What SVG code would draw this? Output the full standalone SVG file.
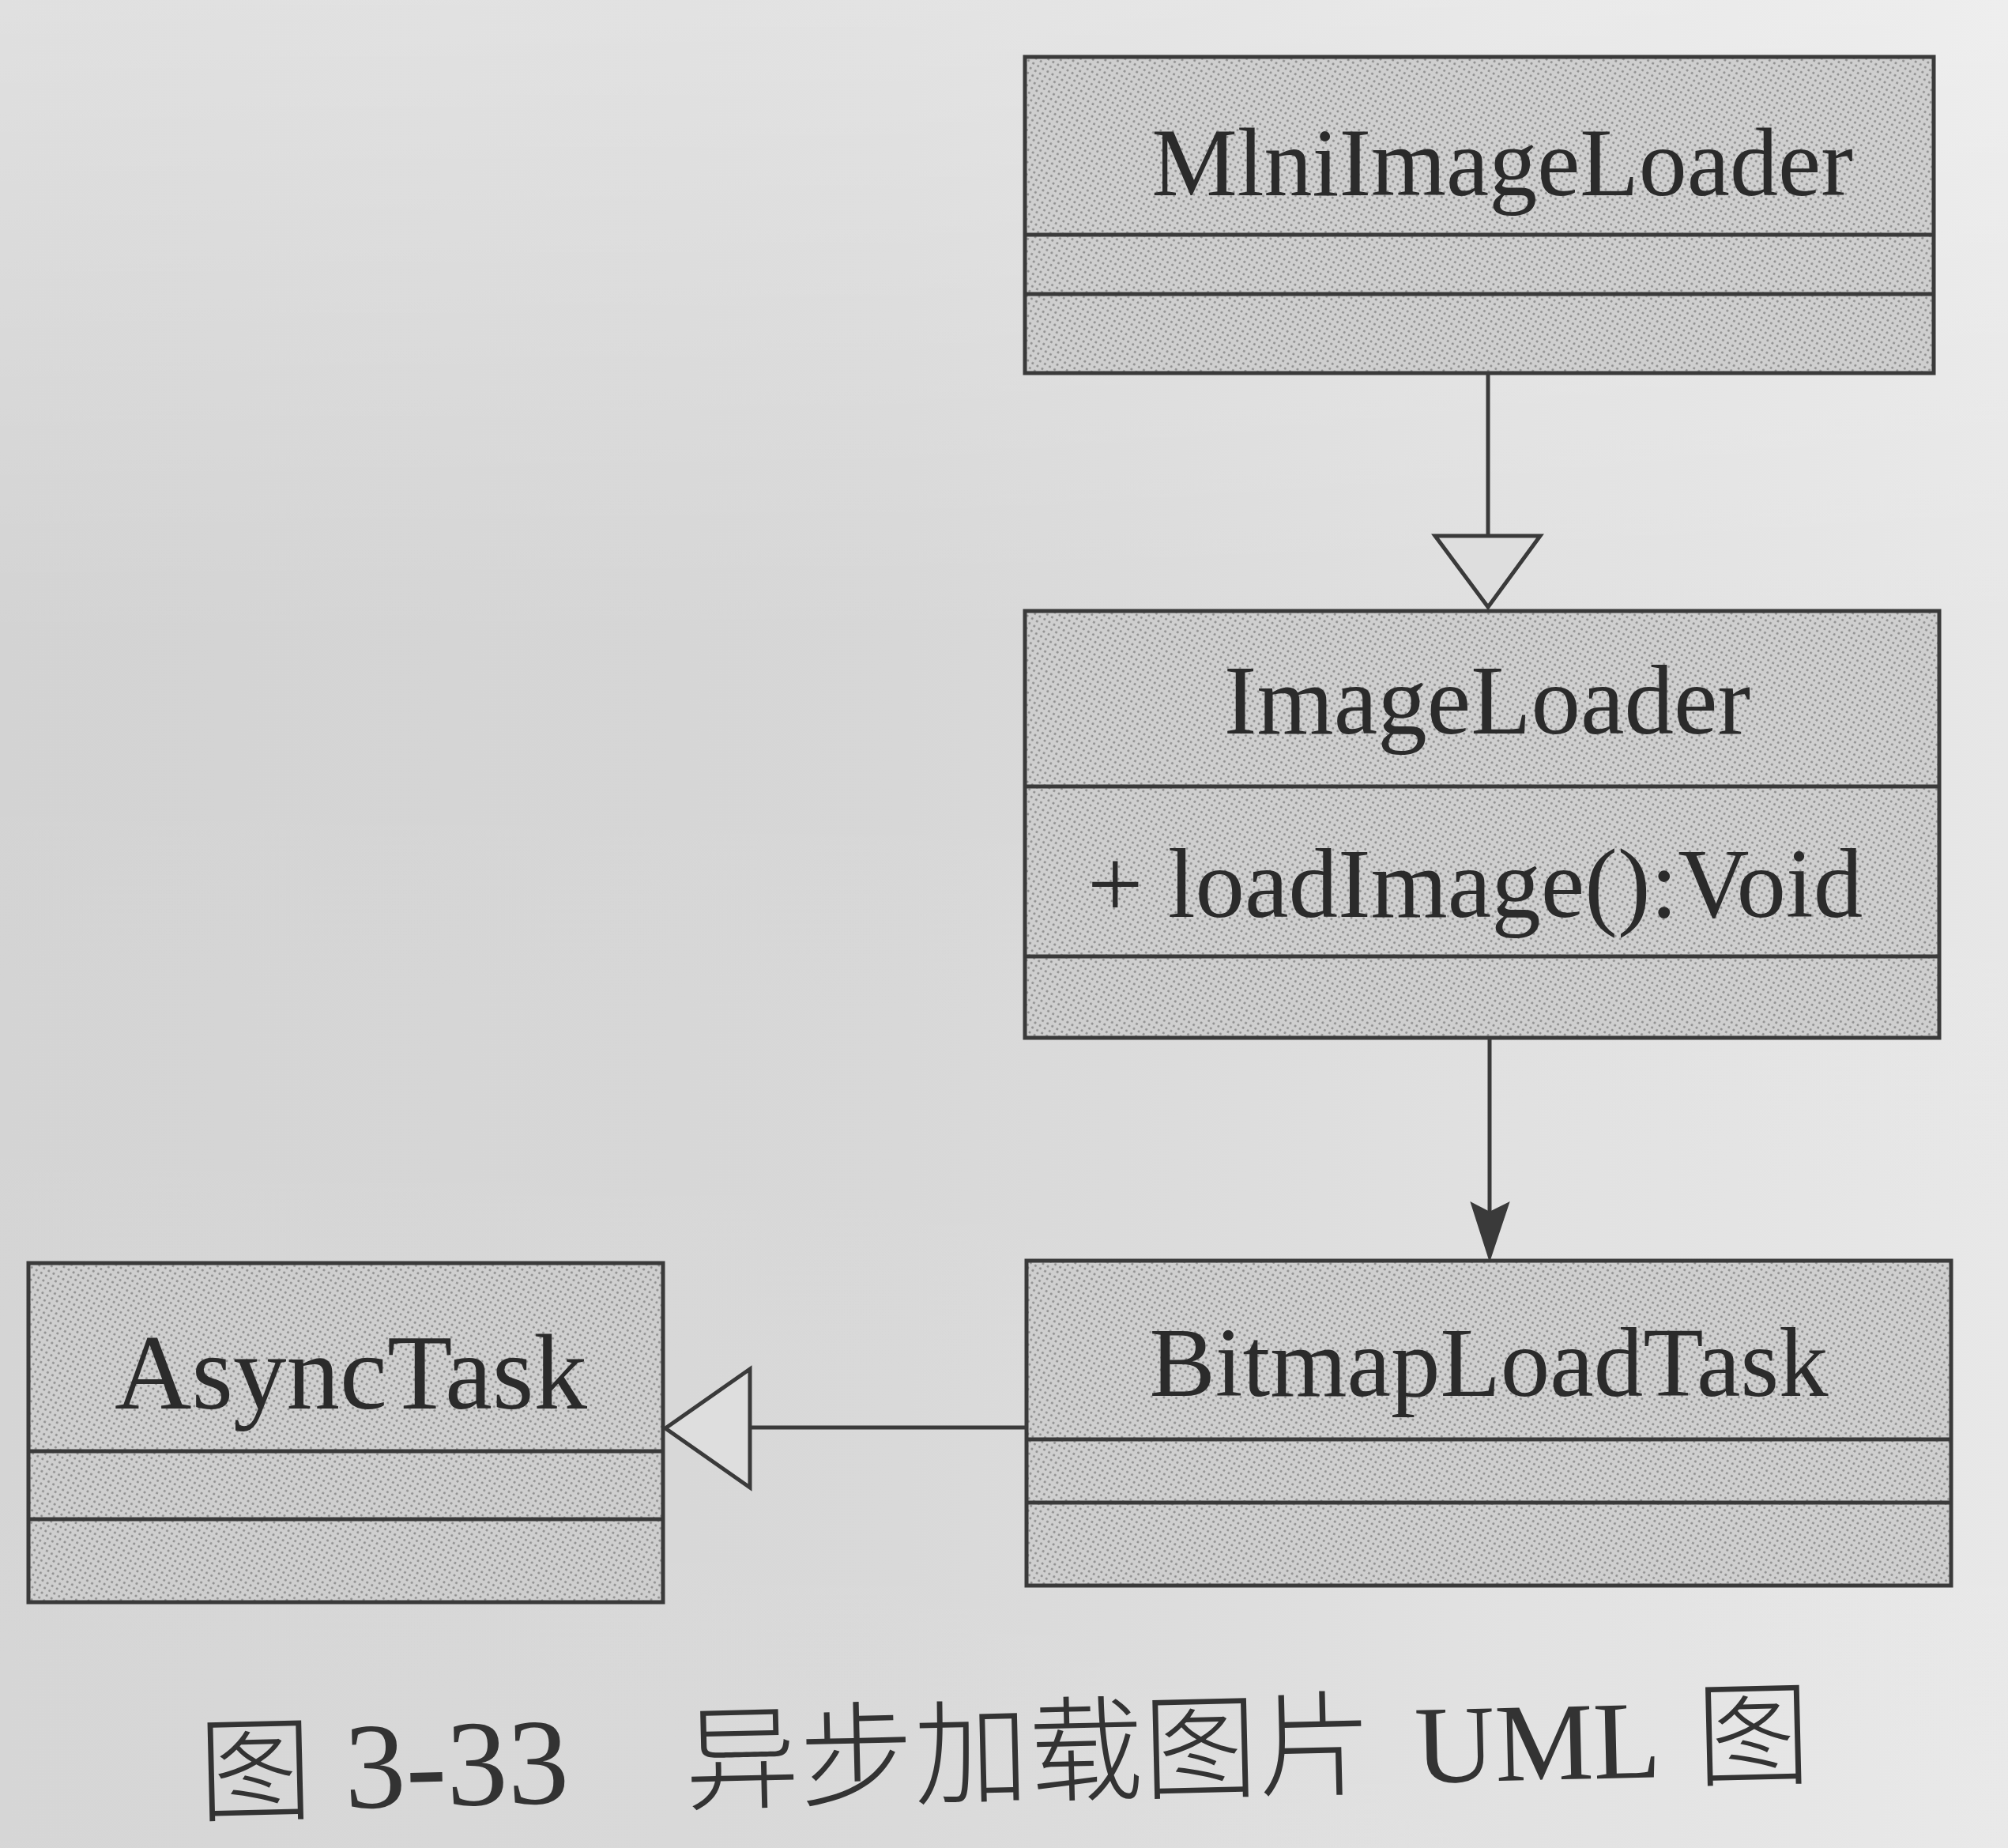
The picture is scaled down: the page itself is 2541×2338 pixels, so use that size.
<svg xmlns="http://www.w3.org/2000/svg" width="2541" height="2338" viewBox="0 0 2541 2338">
  <defs>
    <linearGradient id="bg" x1="0" y1="0" x2="1" y2="0">
      <stop offset="0" stop-color="#d3d3d3"/>
      <stop offset="0.45" stop-color="#d7d7d7"/>
      <stop offset="1" stop-color="#e7e7e7"/>
    </linearGradient>
    <linearGradient id="bgv" x1="0" y1="0" x2="0" y2="1">
      <stop offset="0" stop-color="#ffffff" stop-opacity="0.3"/>
      <stop offset="0.35" stop-color="#ffffff" stop-opacity="0"/>
      <stop offset="1" stop-color="#ffffff" stop-opacity="0.08"/>
    </linearGradient>
    <pattern id="dots" width="7" height="7" patternUnits="userSpaceOnUse" patternTransform="rotate(30)">
      <rect width="7" height="7" fill="#cfcfcf"/>
      <circle cx="3.5" cy="3.5" r="1.5" fill="#8c8c8c"/>
    </pattern>
  </defs>
  <style>
    .box { fill: url(#dots); stroke: #3a3a3a; stroke-width: 5; }
    .div { stroke: #3a3a3a; stroke-width: 5; fill: none; }
    .name { font-family: "Liberation Serif", "Times New Roman", serif; fill: #2b2b2b; text-anchor: middle; }
    .op { font-family: "Liberation Serif", "Times New Roman", serif; fill: #2b2b2b; }
    .edge { stroke: #3a3a3a; stroke-width: 5; fill: none; }
    .hollow { stroke: #3a3a3a; stroke-width: 5; fill: #dedede; stroke-linejoin: miter; }
    .solid { stroke: #3a3a3a; stroke-width: 2; fill: #3a3a3a; stroke-linejoin: miter; }
    .cap { fill: #333333; }
    .cjk { font-family: "Noto Sans CJK SC", sans-serif; font-weight: 300; }
    .lat { font-family: "Liberation Serif", "Times New Roman", serif; }
  </style>

  <rect x="0" y="0" width="2541" height="2338" fill="url(#bg)"/>
  <rect x="0" y="0" width="2541" height="2338" fill="url(#bgv)"/>

  <g id="connectors">
    <line class="edge" x1="1883" y1="472" x2="1883" y2="678"/>
    <polygon class="hollow" points="1816,678 1949,678 1883,768"/>
    <line class="edge" x1="1885" y1="1313" x2="1885" y2="1534"/>
    <polygon class="solid" points="1885,1594 1862,1522 1885,1534 1909,1522"/>
    <line class="edge" x1="1299" y1="1806" x2="949" y2="1806"/>
    <polygon class="hollow" points="949,1732 949,1882 842,1807"/>
  </g>

  <g id="MlniImageLoader">
    <rect class="box" x="1297" y="72" width="1150" height="400"/>
    <line class="div" x1="1297" y1="297" x2="2447" y2="297"/>
    <line class="div" x1="1297" y1="372" x2="2447" y2="372"/>
    <text class="name" x="1901" y="247" font-size="122">MlniImageLoader</text>
  </g>

  <g id="ImageLoader">
    <rect class="box" x="1297" y="773" width="1157" height="540"/>
    <line class="div" x1="1297" y1="995" x2="2454" y2="995"/>
    <line class="div" x1="1297" y1="1210" x2="2454" y2="1210"/>
    <text class="name" x="1882" y="928" font-size="125">ImageLoader</text>
    <text class="op" x="1376" y="1160" font-size="125">+ loadImage():Void</text>
  </g>

  <g id="BitmapLoadTask">
    <rect class="box" x="1299" y="1595" width="1170" height="411"/>
    <line class="div" x1="1299" y1="1821" x2="2469" y2="1821"/>
    <line class="div" x1="1299" y1="1901" x2="2469" y2="1901"/>
    <text class="name" x="1884" y="1766" font-size="125">BitmapLoadTask</text>
  </g>

  <g id="AsyncTask">
    <rect class="box" x="36" y="1598" width="803" height="429"/>
    <line class="div" x1="36" y1="1836" x2="839" y2="1836"/>
    <line class="div" x1="36" y1="1922" x2="839" y2="1922"/>
    <text class="name" x="444" y="1782" font-size="135">AsyncTask</text>
  </g>

  <g id="caption" class="cap" transform="rotate(-1.35 1260 2280)">
    <text class="cjk" x="252" y="2270" font-size="145">图</text>
    <text class="lat" x="437" y="2268" font-size="155">3-33</text>
    <text class="cjk" x="868" y="2270" font-size="145">异步加载图片</text>
    <text class="lat" x="1792" y="2268" font-size="140">UML</text>
    <text class="cjk" x="2148" y="2270" font-size="145">图</text>
  </g>
</svg>
